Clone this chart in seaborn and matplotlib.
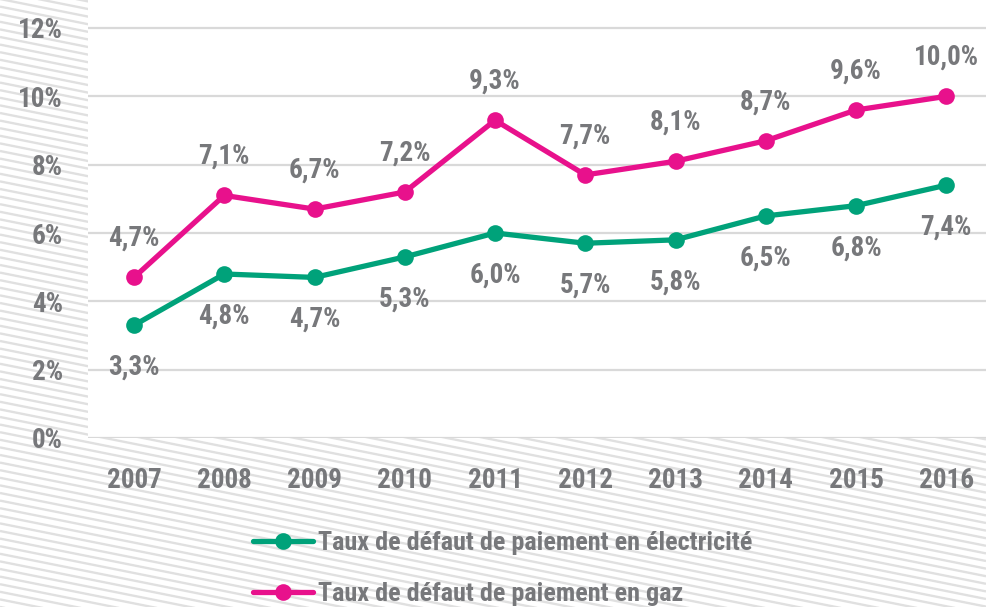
import matplotlib
matplotlib.use("Agg")
import matplotlib.pyplot as plt
from matplotlib import font_manager
import seaborn as sns
import pandas as pd
import numpy as np

years = ["2007", "2008", "2009", "2010", "2011", "2012", "2013", "2014", "2015", "2016"]
elec = [3.3, 4.8, 4.7, 5.3, 6.0, 5.7, 5.8, 6.5, 6.8, 7.4]
gaz = [4.7, 7.1, 6.7, 7.2, 9.3, 7.7, 8.1, 8.7, 9.6, 10.0]
series_names = ["Taux de défaut de paiement en électricité", "Taux de défaut de paiement en gaz"]
y_ticks = [0, 2, 4, 6, 8, 10, 12]

GREEN = "#00A27A"
PINK = "#E8118C"
GRAY = "#77787B"
FS = 19.5
LFS = 18.8

sns.set_theme(style="white")

names = {f.name for f in font_manager.fontManager.ttflist}
font_kw = {}
for cand in ["Roboto Condensed", "Liberation Sans Narrow", "Open Sans Condensed"]:
    if cand in names:
        font_kw = {"family": cand}
        break
if not font_kw:
    font_kw = {"family": "DejaVu Sans", "stretch": "condensed"}
plt.rcParams["font.family"] = [font_kw["family"], "DejaVu Sans"]
if "stretch" in font_kw:
    plt.rcParams["font.stretch"] = "condensed"

W, H = 986, 607
fig = plt.figure(figsize=(W / 100, H / 100), dpi=100)
fig.patch.set_facecolor("white")

# background hatching
bg = fig.add_axes([0, 0, 1, 1], zorder=0)
bg.set_xlim(0, W)
bg.set_ylim(0, H)
bg.axis("off")
xs = np.array([0, W])
for c in np.arange(0, H + 0.2 * W + 20, 7.6):
    bg.plot(xs, c - 0.2 * xs, color="#E0E0E0", lw=1.7, solid_capstyle="butt")

ax = fig.add_axes([88 / W, (H - 438) / H, (W - 88) / W, 438 / H], zorder=1)
ax.set_facecolor("white")

df = pd.DataFrame({
    "pos": list(range(len(years))) * 2,
    "value": elec + gaz,
    "series": [series_names[0]] * len(years) + [series_names[1]] * len(years),
})
sns.lineplot(data=df, x="pos", y="value", hue="series", palette=[GREEN, PINK],
             marker="o", markersize=12, markeredgewidth=0, linewidth=3.8, ax=ax, zorder=3)

ax.set_xlim(-0.51, 9.44)
ax.set_ylim(0, 12 * 438 / 410)
ax.set_yticks(y_ticks)
ax.set_yticklabels([f"{t}%" for t in y_ticks])
ax.set_xticks(range(len(years)))
ax.set_xticklabels(years)
ax.grid(axis="y", color="#D9D9D9", lw=1.6)
ax.set_axisbelow(True)
for s in ax.spines.values():
    s.set_visible(False)
ax.tick_params(axis="both", length=0, labelsize=FS, labelcolor=GRAY)
ax.tick_params(axis="y", pad=18)
ax.tick_params(axis="x", pad=21)
for lab in ax.get_xticklabels() + ax.get_yticklabels():
    lab.set_fontweight("bold")
ax.set_xlabel("")
ax.set_ylabel("")

def fmt(v):
    return f"{v:.1f}%".replace(".", ",")

for i, v in enumerate(gaz):
    ax.annotate(fmt(v), (i, v), xytext=(0, 39), textcoords="offset pixels",
                ha="center", va="center", fontsize=FS, fontweight="bold", color=GRAY, zorder=4)
for i, v in enumerate(elec):
    ax.annotate(fmt(v), (i, v), xytext=(0, -42), textcoords="offset pixels",
                ha="center", va="center", fontsize=FS, fontweight="bold", color=GRAY, zorder=4)

handles, labels = ax.get_legend_handles_labels()
ax.get_legend().remove()
leg = fig.legend(handles, labels, loc="upper left", bbox_to_anchor=(253 / W, (H - 531) / H),
                 frameon=False, handlelength=2.3, handletextpad=0.2, labelspacing=1.05,
                 borderpad=0, borderaxespad=0, prop={"size": LFS, "weight": "bold"})
for t in leg.get_texts():
    t.set_color(GRAY)
for h in leg.legend_handles:
    h.set_linewidth(3.8)
    h.set_markersize(12)

fig.savefig("out.png", dpi=100)
